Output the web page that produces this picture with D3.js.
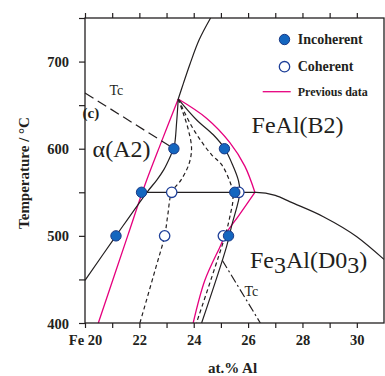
<!DOCTYPE html>
<html>
<head>
<meta charset="utf-8">
<script src="https://cdn.jsdelivr.net/npm/d3@7"></script>
<style>
  html, body { margin: 0; padding: 0; background: #fff; }
  svg { display: block; }
  text { font-family: "Liberation Serif", "Times New Roman", serif; fill: #231f20; }
</style>
</head>
<body>
<svg id="chart" width="385" height="376"></svg>
<script>
// Phase boundaries, [at.% Al, temperature °C]
const a2Solvus = [[20, 449], [21.14, 500], [22.28, 550], [22.64, 564], [22.9, 576], [23.15, 592], [23.28, 602], [23.37, 630], [23.43, 657]];
const orderLine = [[23.43, 657], [23.62, 675], [23.86, 697], [24.2, 725], [24.62, 750]];
const b2Solvus = [[23.43, 657], [24.11, 633], [24.72, 616], [25.14, 600], [25.45, 580], [25.64, 564], [25.7, 550], [25.39, 511], [25.21, 488], [24.29, 400]];
const d03Line = [[22.28, 550], [26.3, 550], [27.0, 546.5], [27.55, 539], [28.77, 522], [30.0, 499], [31.0, 473]];
const cohLeft = [[23.43, 657], [23.61, 641], [23.8, 622], [23.92, 600], [23.82, 582], [23.53, 564], [23.19, 550], [23.05, 525], [22.93, 500], [22.6, 463], [22.02, 400]];
const cohRight = [[23.43, 657], [23.55, 649], [23.92, 626], [24.29, 608], [24.66, 593], [25.02, 582], [25.27, 567], [25.42, 553], [25.44, 540], [25.35, 525], [25.2, 505], [24.9, 475], [24.1, 400]];
const prevLeft = [[20.49, 400], [21.57, 500], [22.2, 558], [22.8, 607], [23.43, 657]];
const prevRightUp = [[23.43, 657], [24.47, 635], [25.33, 607], [25.88, 580], [26.25, 550]];
const prevRightDown = [[26.25, 550], [25.65, 523], [25.2, 503], [24.96, 487], [24.41, 449], [23.98, 400]];
const tcUpper = [[20, 664], [23.12, 603]];
const tcLower = [[25.05, 472], [26.45, 400]];

// Measured points
const incoherent = [[21.14, 500], [22.08, 550], [23.27, 600], [25.13, 600], [25.51, 550], [25.28, 500]];
const coherent = [[22.93, 500], [23.19, 550], [25.66, 550], [25.09, 500]];

// Axis ticks
const xTicks = d3.range(20, 31, 1);
const yTicks = d3.range(400, 751, 50);

const svg = d3.select('#chart');
const mLeft = 85, mRight = 384, mTop = 18, mBottom = 323;

const x = d3.scaleLinear().domain([20, 31]).range([mLeft, mRight]);
const y = d3.scaleLinear().domain([400, 750]).range([mBottom, mTop]);

const line = d3.line().x(d => x(d[0])).y(d => y(d[1]));
const smooth = d3.line().x(d => x(d[0])).y(d => y(d[1])).curve(d3.curveCatmullRom.alpha(0.5));
const mono = d3.line().x(d => x(d[0])).y(d => y(d[1])).curve(d3.curveMonotoneX);

const plot = svg.append('g');

function path(data, gen, stroke, dash, width) {
  plot.append('path')
    .attr('d', gen(data))
    .attr('fill', 'none')
    .attr('stroke', stroke)
    .attr('stroke-width', width || 1.2)
    .attr('stroke-dasharray', dash || null);
}

const MAGENTA = '#e6007e';
const INK = '#231f20';
const BLUE = '#1466bf';
const NAVY = '#1a3a86';

// Previous data
path(prevLeft, smooth, MAGENTA, null, 1.3);
path(prevRightUp, smooth, MAGENTA, null, 1.3);
path(prevRightDown, smooth, MAGENTA, null, 1.3);

// Coherent (dashed) boundaries
path(cohLeft, smooth, INK, '4,3');
path(cohRight, smooth, INK, '4,3');

// Incoherent (solid) boundaries
path(a2Solvus, smooth, INK);
path(orderLine, smooth, INK);
path(b2Solvus, smooth, INK);
path(d03Line, mono, INK);

// Curie temperature lines
path(tcUpper, line, INK, '10,5');
path(tcLower, line, INK, '9,3,2,3');

// Points
plot.selectAll('circle.coh')
  .data(coherent)
  .join('circle')
  .attr('class', 'coh')
  .attr('cx', d => x(d[0]))
  .attr('cy', d => y(d[1]))
  .attr('r', 5.2)
  .attr('fill', '#fff')
  .attr('stroke', '#1e3f98')
  .attr('stroke-width', 1.3);

plot.selectAll('circle.inc')
  .data(incoherent)
  .join('circle')
  .attr('class', 'inc')
  .attr('cx', d => x(d[0]))
  .attr('cy', d => y(d[1]))
  .attr('r', 5.2)
  .attr('fill', BLUE)
  .attr('stroke', NAVY)
  .attr('stroke-width', 1);

// Axes
const fmtX = d => d === 20 ? 'Fe 20' : (d % 2 === 0 ? d : '');
const fmtY = d => (d % 100 === 0 && d < 750) ? d : '';

svg.append('g')
  .attr('transform', `translate(0,${mBottom})`)
  .call(d3.axisBottom(x).tickValues(xTicks).tickFormat(fmtX).tickSize(5).tickPadding(7).tickSizeOuter(0));

svg.append('g')
  .attr('transform', `translate(0,${mTop})`)
  .call(d3.axisTop(x).tickValues(xTicks).tickFormat('').tickSize(5).tickSizeOuter(0));

const yAxis = svg.append('g')
  .attr('transform', `translate(${mLeft},0)`)
  .call(d3.axisLeft(y).tickValues(yTicks).tickFormat(fmtY).tickSize(6).tickPadding(10).tickSizeOuter(0));

svg.selectAll('.domain').remove();
svg.selectAll('.tick line').attr('stroke', INK).attr('stroke-width', 1.2);
svg.selectAll('.tick text')
  .attr('font-family', '"Liberation Serif", serif')
  .attr('font-weight', 'bold')
  .attr('font-size', 14.5)
  .attr('fill', INK);
yAxis.selectAll('.tick text').attr('dy', '0.35em');

svg.append('rect')
  .attr('x', mLeft).attr('y', mTop)
  .attr('width', mRight - mLeft).attr('height', mBottom - mTop)
  .attr('fill', 'none')
  .attr('stroke', INK)
  .attr('stroke-width', 1.3);

// Axis titles
svg.append('text')
  .attr('x', (mLeft + mRight) / 2 - 2)
  .attr('y', 373)
  .attr('text-anchor', 'middle')
  .attr('font-weight', 'bold')
  .attr('font-size', 15)
  .text('at.% Al');

svg.append('text')
  .attr('transform', 'translate(29,173) rotate(-90)')
  .attr('text-anchor', 'middle')
  .attr('font-weight', 'bold')
  .attr('font-size', 15)
  .text('Temperature / °C');

// Region labels
function label(xv, yv, size, txt, weight) {
  return svg.append('text')
    .attr('x', x(xv)).attr('y', y(yv))
    .attr('font-size', size)
    .attr('font-weight', weight || 'normal')
    .text(txt);
}

label(20.28, 591, 24, 'α(A2)');
label(26.13, 618, 24, 'FeAl(B2)');
const d03 = label(26.07, 463, 24, 'Fe');
d03.append('tspan').attr('dy', 5).text('3');
d03.append('tspan').attr('dy', -5).text('Al(D0');
d03.append('tspan').attr('dy', 5).text('3');
d03.append('tspan').attr('dy', -5).text(')');
label(20.9, 662, 14, 'Tc');
label(25.87, 431, 14, 'Tc');
svg.append('text')
  .attr('x', 82.5).attr('y', 118)
  .attr('font-size', 15)
  .attr('font-weight', 'bold')
  .text('(c)');

// Legend
const legend = svg.append('g');
legend.append('circle')
  .attr('cx', 284.5).attr('cy', 39.5).attr('r', 5.2)
  .attr('fill', BLUE).attr('stroke', NAVY).attr('stroke-width', 1);
legend.append('circle')
  .attr('cx', 284.5).attr('cy', 66.7).attr('r', 5.2)
  .attr('fill', '#fff').attr('stroke', '#1e3f98').attr('stroke-width', 1.3);
legend.append('line')
  .attr('x1', 262.7).attr('x2', 290.7).attr('y1', 91.7).attr('y2', 91.7)
  .attr('stroke', MAGENTA).attr('stroke-width', 1.3);
legend.append('text').attr('x', 297.7).attr('y', 44).attr('font-size', 14).attr('font-weight', 'bold').text('Incoherent');
legend.append('text').attr('x', 297.7).attr('y', 71).attr('font-size', 14).attr('font-weight', 'bold').text('Coherent');
legend.append('text').attr('x', 297.7).attr('y', 95.5).attr('font-size', 12).attr('font-weight', 'bold').text('Previous data');
</script>
</body>
</html>
